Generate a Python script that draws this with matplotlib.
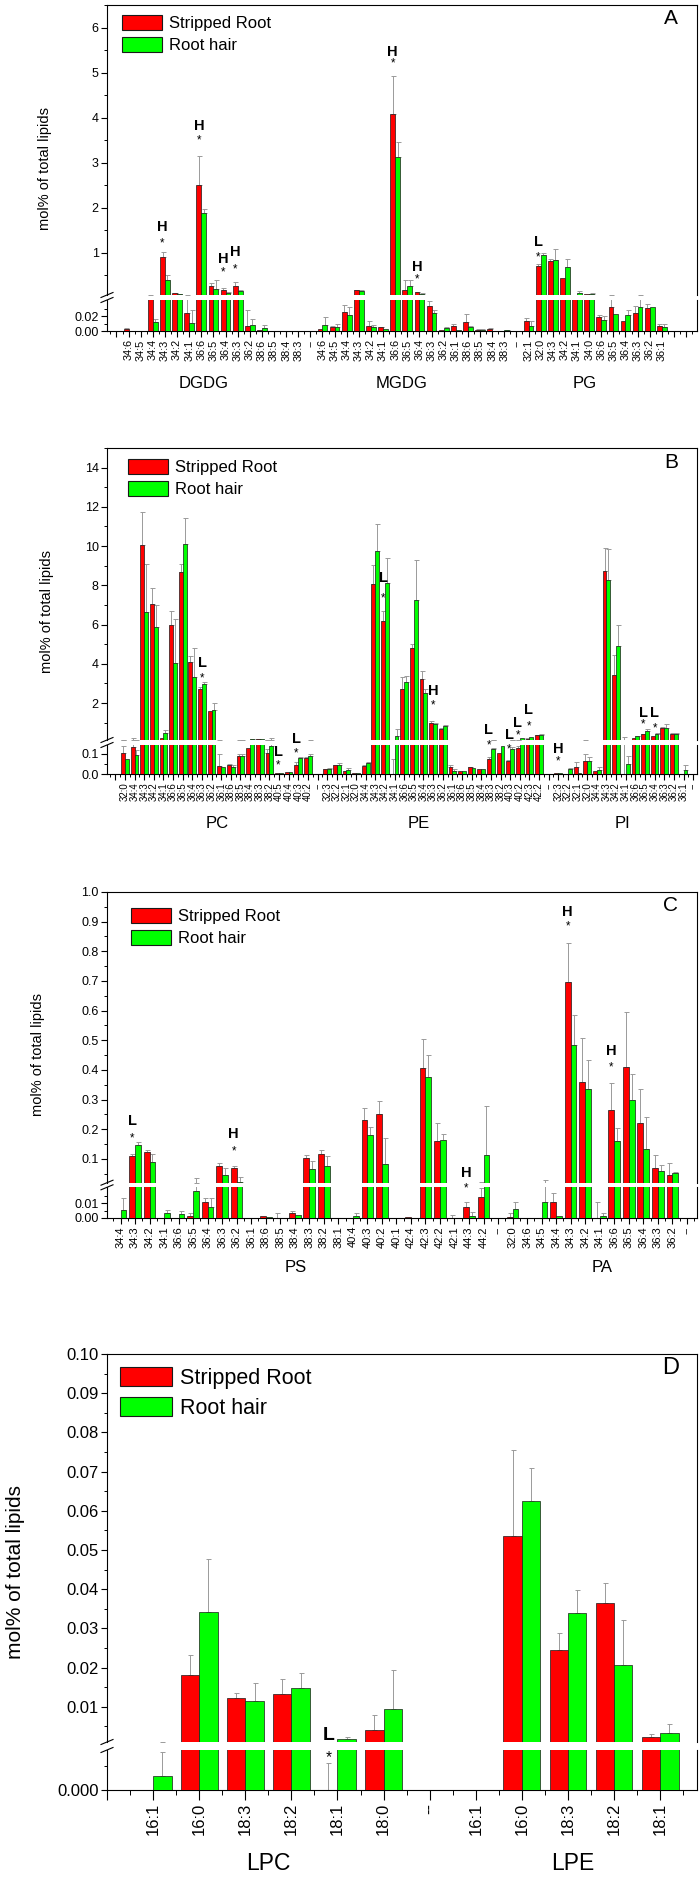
import matplotlib
matplotlib.use("Agg")
import matplotlib.pyplot as plt
import numpy as np
from matplotlib.patches import Patch
from matplotlib.lines import Line2D
from matplotlib.transforms import blended_transform_factory

plt.rcParams['font.family'] = ['Liberation Sans', 'DejaVu Sans']
plt.rcParams['axes.linewidth'] = 0.8

RED = '#ff0000'
GREEN = '#00ff00'
EDGE = '#1a1a1a'
ERRC = '#9a9a9a'

# ---------------- Panel A ----------------
a_labels = ['34:6', '34:5', '34:4', '34:3', '34:2', '34:1', '36:6', '36:5', '36:4', '36:3', '36:2', '38:6', '38:5', '38:4', '38:3', '--',
            '34:6', '34:5', '34:4', '34:3', '34:2', '34:1', '36:6', '36:5', '36:4', '36:3', '36:2', '36:1', '38:6', '38:5', '38:4', '38:3', '--',
            '32:1', '32:0', '34:3', '34:2', '34:1', '34:0', '36:6', '36:5', '36:4', '36:3', '36:2', '36:1']
a_red = [0.003, 0, 0.045, 0.90, 0.10, 0.025, 2.50, 0.25, 0.16, 0.26, 0.0065, 0.0015, 0, 0, 0.0005, 0,
         0.003, 0.005, 0.026, 0.16, 0.0073, 0.005, 4.07, 0.18, 0.12, 0.034, 0.001, 0.007, 0.0127, 0.002, 0.003, 0.0005, 0,
         0.0136, 0.71, 0.82, 0.44, 0.07, 0.08, 0.0186, 0.033, 0.0136, 0.024, 0.031, 0.007]
a_red_err = [0.001, 0, 0.018, 0.11, 0.01, 0.04, 0.65, 0.07, 0.05, 0.08, 0.022, 0, 0, 0, 0, 0,
             0, 0.002, 0.009, 0.01, 0.006, 0.001, 0.86, 0.22, 0.01, 0.007, 0, 0.003, 0.011, 0.001, 0.001, 0, 0,
             0.004, 0.04, 0.05, 0, 0, 0, 0.003, 0.035, 0, 0.01, 0.005, 0.003]
a_green = [0, 0, 0.0125, 0.39, 0.08, 0.011, 1.88, 0.20, 0.11, 0.15, 0.008, 0.0045, 0, 0, 0.0005, 0,
           0.008, 0.006, 0.022, 0.155, 0.006, 0.003, 3.13, 0.25, 0.09, 0.025, 0.004, 0.001, 0.006, 0.002, 0, 0.001, 0,
           0.007, 0.94, 0.83, 0.69, 0.10, 0.09, 0.0145, 0.023, 0.022, 0.033, 0.032, 0.005]
a_green_err = [0, 0, 0.004, 0.12, 0.005, 0.018, 0.09, 0.20, 0.01, 0.01, 0.008, 0.004, 0, 0, 0, 0,
               0.011, 0.003, 0.01, 0.005, 0.002, 0, 0.32, 0.15, 0.01, 0.003, 0.001, 0, 0.001, 0.001, 0, 0.001, 0,
               0.006, 0.06, 0.25, 0.16, 0.04, 0.005, 0.006, 0, 0.006, 0.033, 0, 0.004]
a_groups = [('DGDG', 6.2), ('MGDG', 22.5), ('PG', 37.6)]
a_annots = [('H', 3, -0.2, 1.56, 'u'), ('*', 3, -0.2, 1.2, 'u'),
            ('H', 6, -0.2, 3.81, 'u'), ('*', 6, -0.2, 3.5, 'u'),
            ('H', 8, -0.2, 0.85, 'u'), ('*', 8, -0.2, 0.56, 'u'),
            ('H', 9, -0.2, 1.02, 'u'), ('*', 9, -0.2, 0.63, 'u'),
            ('H', 22, -0.2, 5.45, 'u'), ('*', 22, -0.2, 5.2, 'u'),
            ('H', 24, -0.2, 0.69, 'u'), ('*', 24, -0.2, 0.4, 'u'),
            ('L', 34, -0.2, 1.24, 'u'), ('*', 34, -0.2, 0.9, 'u')]

# ---------------- Panel B ----------------
b_labels = ['32:0', '34:4', '34:3', '34:2', '34:1', '36:6', '36:5', '36:4', '36:3', '36:2', '36:1', '38:6', '38:5', '38:4', '38:3', '38:2', '40:5', '40:4', '40:3', '40:2', '--',
            '32:3', '32:2', '32:1', '32:0', '34:4', '34:3', '34:2', '34:1', '36:6', '36:5', '36:4', '36:3', '36:2', '36:1', '38:6', '38:5', '38:4', '38:3', '38:2', '40:3', '40:2', '42:3', '42:2', '--',
            '32:3', '32:2', '32:1', '32:0', '34:4', '34:3', '34:2', '34:1', '36:6', '36:5', '36:4', '36:3', '36:2', '36:1', '--']
b_red = [0.107, 0.133, 10.05, 7.05, 0.20, 6.0, 8.7, 4.1, 2.7, 1.6, 0.04, 0.044, 0.088, 0.13, 0.16, 0.107, 0.005, 0.01, 0.046, 0.08, 0,
         0.025, 0.045, 0.015, 0.005, 0.04, 8.05, 6.2, 0.002, 2.72, 4.8, 3.24, 1.0, 0.69, 0.035, 0.015, 0.035, 0.025, 0.077, 0.103, 0.066, 0.13, 0.19, 0.36, 0,
         0.005, 0.002, 0.036, 0.066, 0.016, 8.75, 3.44, 0.003, 0.24, 0.41, 0.30, 0.75, 0.43, 0, 0]
b_red_err = [0.03, 0.07, 1.7, 0.8, 0, 0.7, 0.4, 0.3, 0.1, 0, 0.06, 0.008, 0.012, 0, 0.03, 0.015, 0, 0, 0.012, 0.005, 0,
             0.003, 0.003, 0.003, 0, 0.005, 1.0, 0.5, 0.075, 0.6, 0.2, 0.4, 0.1, 0.03, 0.01, 0, 0.003, 0, 0.008, 0, 0.005, 0.008, 0.01, 0.03, 0,
             0, 0, 0.024, 0.034, 0, 1.15, 1.0, 0.25, 0, 0.03, 0, 0.05, 0.04, 0, 0]
b_green = [0.074, 0.093, 6.65, 5.9, 0.5, 4.05, 10.1, 3.35, 2.95, 1.67, 0.036, 0.038, 0.092, 0.15, 0.155, 0.14, 0.008, 0.01, 0.08, 0.088, 0,
           0.028, 0.048, 0.022, 0.005, 0.055, 9.75, 8.1, 0.33, 3.1, 7.27, 2.5, 0.92, 0.81, 0.015, 0.015, 0.032, 0.025, 0.123, 0.14, 0.125, 0.24, 0.27, 0.36, 0,
           0.005, 0.025, 0.007, 0.066, 0.021, 8.27, 4.92, 0.05, 0.30, 0.56, 0.43, 0.75, 0.43, 0.021, 0]
b_green_err = [0, 0.025, 2.45, 1.1, 0.15, 2.25, 1.35, 1.45, 0.15, 0.35, 0, 0.01, 0.01, 0.01, 0, 0.06, 0, 0, 0.005, 0.012, 0,
               0.003, 0.008, 0.008, 0, 0.005, 1.4, 1.3, 0.33, 0.3, 2.0, 0.2, 0.05, 0.06, 0.01, 0, 0, 0, 0.008, 0, 0.01, 0, 0, 0.08, 0,
               0, 0.005, 0, 0.018, 0.013, 1.58, 1.08, 0.04, 0.01, 0.14, 0.03, 0.2, 0.07, 0.024, 0]
b_groups = [('PC', 9.6), ('PE', 30.5), ('PI', 51.7)]
b_annots = [('L', 8, 0.05, 4.03, 'u'), ('*', 8, 0.05, 3.28, 'u'),
            ('L', 16, -0.1, 0.111, 'l'), ('*', 16, -0.1, 0.046, 'l'),
            ('L', 18, -0.2, 0.19, 'u'), ('*', 18, -0.2, 0.104, 'l'),
            ('L', 27, -0.2, 8.38, 'u'), ('*', 27, -0.2, 7.32, 'u'),
            ('H', 32, 0.0, 2.64, 'u'), ('*', 32, 0.0, 1.88, 'u'),
            ('L', 38, -0.2, 0.61, 'u'), ('*', 38, -0.2, 0.14, 'l'),
            ('L', 40, -0.1, 0.36, 'u'), ('*', 40, -0.1, 0.12, 'l'),
            ('L', 41, -0.2, 1.0, 'u'), ('*', 41, -0.2, 0.36, 'u'),
            ('L', 42, -0.05, 1.63, 'u'), ('*', 42, -0.05, 0.83, 'u'),
            ('H', 45, 0.0, 0.123, 'l'), ('*', 45, 0.0, 0.062, 'l'),
            ('L', 54, -0.2, 1.51, 'u'), ('*', 54, -0.2, 0.9, 'u'),
            ('L', 55, 0.0, 1.51, 'u'), ('*', 55, 0.0, 0.73, 'u')]

# ---------------- Panel C ----------------
c_labels = ['34:4', '34:3', '34:2', '34:1', '36:6', '36:5', '36:4', '36:3', '36:2', '36:1', '38:6', '38:5', '38:4', '38:3', '38:2', '38:1', '40:4', '40:3', '40:2', '40:1', '42:4', '42:3', '42:2', '42:1', '44:3', '44:2', '--',
            '32:0', '34:6', '34:5', '34:4', '34:3', '34:2', '34:1', '36:6', '36:5', '36:4', '36:3', '36:2', '--']
c_red = [0, 0.11, 0.124, 0, 0, 0.001, 0.011, 0.076, 0.071, 0, 0.001, 0, 0.0035, 0.104, 0.117, 0, 0, 0.233, 0.252, 0, 0.0005, 0.407, 0.159, 0, 0.0077, 0.0142, 0,
         0.0005, 0, 0, 0.011, 0.697, 0.36, 0, 0.264, 0.41, 0.222, 0.069, 0.045, 0]
c_red_err = [0, 0.008, 0.006, 0, 0, 0.002, 0.003, 0.009, 0.005, 0, 0, 0.003, 0.001, 0.011, 0.013, 0, 0, 0.039, 0.043, 0, 0, 0.096, 0.063, 0.002, 0.0033, 0.0068, 0,
             0.0025, 0, 0, 0.006, 0.13, 0.148, 0.011, 0.093, 0.186, 0.113, 0.044, 0.043, 0]
c_green = [0.0053, 0.146, 0.09, 0.0035, 0.0025, 0.0188, 0.0072, 0.047, 0.022, 0, 0.0005, 0, 0.0018, 0.065, 0.077, 0, 0.001, 0.18, 0.084, 0, 0, 0.376, 0.165, 0, 0.0015, 0.112, 0,
           0.006, 0, 0.0107, 0.001, 0.483, 0.337, 0.0015, 0.16, 0.30, 0.132, 0.061, 0.052, 0]
c_green_err = [0.0087, 0.011, 0.028, 0.002, 0.002, 0.018, 0.0068, 0.023, 0.017, 0, 0, 0, 0, 0.027, 0.033, 0, 0.002, 0.027, 0.086, 0, 0, 0.076, 0.018, 0, 0.0025, 0.168, 0,
               0.005, 0, 0.018, 0, 0.101, 0.095, 0.0015, 0.045, 0.087, 0.108, 0.019, 0.003, 0]
c_groups = [('PS', 12.05), ('PA', 33.2)]
c_annots = [('L', 1, -0.2, 0.227, 'u'), ('*', 1, -0.2, 0.169, 'u'),
            ('H', 8, -0.2, 0.183, 'u'), ('*', 8, -0.2, 0.126, 'u'),
            ('H', 24, -0.2, 0.053, 'u'), ('*', 24, -0.2, 0.0205, 'l'),
            ('H', 31, -0.2, 0.934, 'u'), ('*', 31, -0.2, 0.883, 'u'),
            ('H', 34, -0.2, 0.463, 'u'), ('*', 34, -0.2, 0.409, 'u')]

# ---------------- Panel D ----------------
d_labels = ['16:1', '16:0', '18:3', '18:2', '18:1', '18:0', '--', '16:1', '16:0', '18:3', '18:2', '18:1']
d_red = [0, 0.0182, 0.0123, 0.0132, 0, 0.0041, 0, 0, 0.0535, 0.0244, 0.0364, 0.0022]
d_red_err = [0, 0.005, 0.0013, 0.0038, 0.00067, 0.0039, 0, 0, 0.0221, 0.0044, 0.0051, 0.0009]
d_green = [0.00035, 0.0342, 0.0114, 0.0149, 0.0017, 0.0095, 0, 0, 0.0625, 0.0338, 0.0207, 0.0032]
d_green_err = [0.00061, 0.0135, 0.0046, 0.0036, 0.0005, 0.0098, 0, 0, 0.0085, 0.006, 0.0115, 0.0023]
d_groups = [('LPC', 2.5), ('LPE', 9.1)]
d_annots = [('L', 4, -0.2, 0.0026, 'u'), ('*', 4, -0.2, 0.0008, 'l')]

W, H = 700, 1877
fig = plt.figure(figsize=(7.0, 18.77), dpi=100)
LEFT, RIGHT = 107, 697


def rect(top, bot):
    return [LEFT / W, 1 - bot / H, (RIGHT - LEFT) / W, (bot - top) / H]


def bars(ax, x, vals, errs, off, color, bw):
    vals = np.asarray(vals, float)
    errs = np.asarray(errs, float)
    m = vals > 0
    ax.bar(x[m] + off, vals[m], width=bw, color=color, edgecolor=EDGE, linewidth=0.5, zorder=3)
    e = errs > 0
    ax.errorbar(x[e] + off, vals[e], yerr=[np.zeros(e.sum()), errs[e]], fmt='none',
                ecolor=ERRC, elinewidth=0.7, capsize=1.8, capthick=0.7, zorder=2)


def panel(cfg):
    labels = cfg['labels']
    x = np.arange(len(labels))
    top, b1, b2, bot = cfg['px']
    axu = fig.add_axes(rect(top, b1))
    axl = fig.add_axes(rect(b2, bot))
    bw = 0.4
    for ax in (axu, axl):
        bars(ax, x, cfg['red'], cfg['red_err'], -bw / 2, RED, bw)
        bars(ax, x, cfg['green'], cfg['green_err'], bw / 2, GREEN, bw)
        ax.set_xlim(*cfg['xlim'])
        ax.tick_params(axis='y', which='major', direction='out', length=4, width=0.8,
                       labelsize=cfg['yfs'], pad=2)
        ax.tick_params(axis='y', which='minor', direction='out', length=2.2, width=0.7)
    axu.set_ylim(*cfg['ylim_u'])
    axl.set_ylim(*cfg['ylim_l'])
    axu.spines['bottom'].set_visible(False)
    axl.spines['top'].set_visible(False)
    axu.tick_params(axis='x', which='both', bottom=False, labelbottom=False)
    axu.set_yticks(cfg['yt_u'])
    axu.set_yticklabels(cfg['yl_u'])
    axu.set_yticks(cfg['ym_u'], minor=True)
    axl.set_yticks(cfg['yt_l'])
    axl.set_yticklabels(cfg['yl_l'])
    axl.set_yticks(cfg['ym_l'], minor=True)
    xmin, xmax = cfg['xlim']
    majors = np.arange(np.ceil(xmin), np.floor(xmax) + 1)
    minors = np.arange(np.ceil(xmin - 0.5), np.floor(xmax - 0.5) + 1) + 0.5
    axl.set_xticks(majors)
    axl.set_xticklabels([labels[int(i)] if 0 <= i < len(labels) else '' for i in majors],
                        rotation=90, fontsize=cfg['xfs'])
    axl.set_xticks(minors, minor=True)
    axl.tick_params(axis='x', which='major', direction='out', length=cfg['xtl'][0], width=0.8, pad=2)
    axl.tick_params(axis='x', which='minor', direction='out', length=cfg['xtl'][1], width=0.7)
    for txt, i, dx, y, seg in cfg['annots']:
        ax = axu if seg == 'u' else axl
        if txt == '*':
            ax.text(i + dx, y, '*', ha='center', va='center', fontsize=cfg['afs'] * 0.8, zorder=5)
        else:
            ax.text(i + dx, y, txt, ha='center', va='center', fontsize=cfg['afs'],
                    fontweight='bold', zorder=5)
    tr = blended_transform_factory(axl.transData, fig.transFigure)
    for name, gx in cfg['groups']:
        axl.text(gx, 1 - cfg['group_y'] / H, name, transform=tr, ha='center', va='center',
                 fontsize=cfg['gfs'])
    for yb in (b1, b2):
        xs = [(LEFT - 6) / W, (LEFT + 6) / W]
        ys = [1 - (yb + 2.5) / H, 1 - (yb - 2.5) / H]
        fig.add_artist(Line2D(xs, ys, color='black', lw=0.8, transform=fig.transFigure))
    fig.text(cfg['ylab_x'] / W, 1 - (top + bot) / 2 / H, 'mol% of total lipids', rotation=90,
             ha='center', va='center', fontsize=cfg['ylfs'])
    fig.text(671 / W, 1 - cfg['letter_y'] / H, cfg['letter'], ha='center', va='center',
             fontsize=cfg['letfs'])
    handles = [Patch(facecolor=RED, edgecolor=EDGE, linewidth=0.8),
               Patch(facecolor=GREEN, edgecolor=EDGE, linewidth=0.8)]
    lx, ly = cfg['leg']
    axu.legend(handles, ['Stripped Root', 'Root hair'], loc='upper left',
               bbox_to_anchor=((lx - LEFT) / (RIGHT - LEFT), 1 - (ly - top) / (b1 - top)),
               frameon=False, fontsize=cfg['lfs'], handlelength=2.4, handleheight=1.0,
               handletextpad=0.4, labelspacing=0.35, borderaxespad=0, borderpad=0)


panel(dict(labels=a_labels, red=a_red, red_err=a_red_err, green=a_green, green_err=a_green_err,
           px=(5, 295, 300, 331), ylim_u=(0.06, 6.5), ylim_l=(0, 0.042), xlim=(-1.78, 46.9),
           yt_u=[1, 2, 3, 4, 5, 6], yl_u=['1', '2', '3', '4', '5', '6'],
           ym_u=[0.5, 1.5, 2.5, 3.5, 4.5, 5.5, 6.5],
           yt_l=[0, 0.02], yl_l=['0.00', '0.02'], ym_l=[0.01, 0.03],
           xfs=7.8, yfs=9, xtl=(4, 2.5), annots=a_annots, afs=10.5,
           groups=a_groups, group_y=383, gfs=12, ylab_x=45, ylfs=10.5,
           letter='A', letter_y=18, letfs=15, leg=(122, 15), lfs=12))

panel(dict(labels=b_labels, red=b_red, red_err=b_red_err, green=b_green, green_err=b_green_err,
           px=(448, 740, 745, 774.3), ylim_u=(0.12, 15), ylim_l=(0, 0.144), xlim=(-1.86, 59.4),
           yt_u=[2, 4, 6, 8, 10, 12, 14], yl_u=['2', '4', '6', '8', '10', '12', '14'],
           ym_u=[1, 3, 5, 7, 9, 11, 13, 15],
           yt_l=[0, 0.1], yl_l=['0.0', '0.1'], ym_l=[0.05],
           xfs=6.9, yfs=9, xtl=(4, 2.5), annots=b_annots, afs=10.5,
           groups=b_groups, group_y=824, gfs=12, ylab_x=47, ylfs=10.5,
           letter='B', letter_y=463, letfs=15, leg=(128, 459), lfs=12))

panel(dict(labels=c_labels, red=c_red, red_err=c_red_err, green=c_green, green_err=c_green_err,
           px=(892, 1182.7, 1187.3, 1217.7), ylim_u=(0.02, 1.0), ylim_l=(0, 0.0213), xlim=(-0.93, 39.7),
           yt_u=[0.1, 0.2, 0.3, 0.4, 0.5, 0.6, 0.7, 0.8, 0.9, 1.0],
           yl_u=['0.1', '0.2', '0.3', '0.4', '0.5', '0.6', '0.7', '0.8', '0.9', '1.0'],
           ym_u=[0.05, 0.15, 0.25, 0.35, 0.45, 0.55, 0.65, 0.75, 0.85, 0.95],
           yt_l=[0, 0.01], yl_l=['0.00', '0.01'], ym_l=[0.005, 0.015],
           xfs=8, yfs=9, xtl=(4, 2.5), annots=c_annots, afs=10.5,
           groups=c_groups, group_y=1268, gfs=12, ylab_x=38, ylfs=10.5,
           letter='C', letter_y=905, letfs=15, leg=(131, 908), lfs=12))

panel(dict(labels=d_labels, red=d_red, red_err=d_red_err, green=d_green, green_err=d_green_err,
           px=(1354, 1742, 1750, 1790), ylim_u=(0.001, 0.10), ylim_l=(0, 0.001), xlim=(-1.0, 11.8),
           yt_u=[0.01, 0.02, 0.03, 0.04, 0.05, 0.06, 0.07, 0.08, 0.09, 0.10],
           yl_u=['0.01', '0.02', '0.03', '0.04', '0.05', '0.06', '0.07', '0.08', '0.09', '0.10'],
           ym_u=[0.005, 0.015, 0.025, 0.035, 0.045, 0.055, 0.065, 0.075, 0.085, 0.095],
           yt_l=[0], yl_l=['0.000'], ym_l=[0.0006],
           xfs=12, yfs=12, xtl=(7, 3.5), annots=d_annots, afs=14,
           groups=d_groups, group_y=1863, gfs=16.5, ylab_x=16, ylfs=15,
           letter='D', letter_y=1368, letfs=17, leg=(120, 1367), lfs=15.5))

fig.savefig('out.png', dpi=100)
